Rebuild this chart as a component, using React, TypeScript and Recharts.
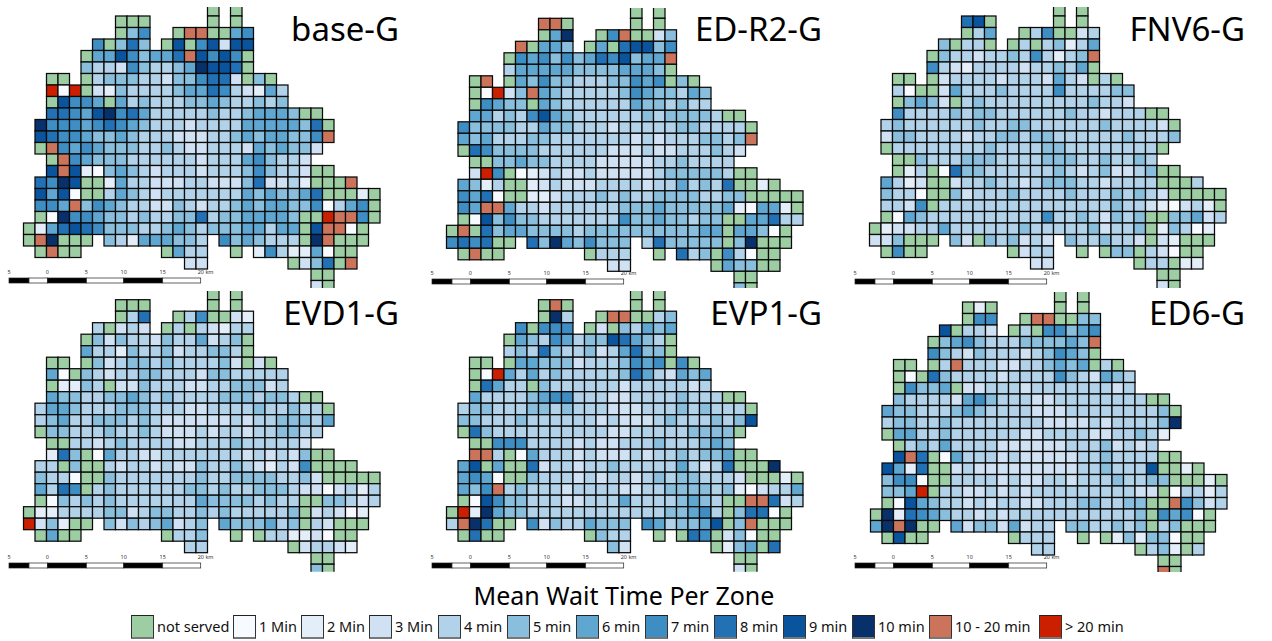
import React from "react";
import { ScatterChart, Scatter, XAxis, YAxis } from "recharts";

// Cell codes: . no zone, g not served, 1-9 minutes, a 10 min, o 10-20 min, r > 20 min
const baseG = [
  "................g.g",
  "........ggg.....g.g",
  "........g57..googg67",
  "......7g585.g9g79399",
  ".....g66975668o9797g",
  ".....5443754456a998g",
  "..gg.g4555443557883g5g",
  "..r1rg32544445668743264",
  "..g9776g645444556544545",
  "..88769a7864444454456665gg",
  ".a777678765444344446666658g",
  ".9877655654443334456566557o",
  ".go76765554454334443656553",
  "..go765554444443444675443",
  "..9o921565434443444575443gg",
  ".87a9gg264433344333583342gggo",
  ".9691gg4654344444446565568ggg2g",
  ".776o5765443354344565665571467g",
  ".g1a77655454455845566665ggroo7g",
  "g26898755544565455566466g9oo1g",
  "goaggg.542666554.7565444gaoggg",
  ".gogg.......g644..g.2742261gg",
  "..............33.......g358go",
  ".........................gg",
  ".........................3g",
];
const edR2G = [
  "................g.g",
  "........oog.....g.g",
  "........g6a..g7ogg35",
  "......og665.g6g89957",
  ".....g7675756879566o",
  ".....46666655556665g",
  "..go.g6575544455767g5g",
  "..g1r35o654444457655465",
  "..g7655g654444446554544",
  "..6645479654444445455554gg",
  ".7555544655444344444554444g",
  ".6564445544444443434445545o",
  ".g875555444444333433444543",
  "..gg556554444333334454444",
  "..3r7g1234334333334555554gg",
  ".6524gg234333444434464548gg2g",
  ".7681gg2234445454455554455ggggg",
  ".76oo6443444444555655555621662g",
  ".g1957554444444755655455gg66844",
  "gog856655554555555555566g6651g",
  "7878gg.85a657555.4855555g5aggg",
  ".gogg.......g444..g.845g741gg",
  "..............33.......g655gg",
  ".........................gg",
  ".........................5g",
];
const fnv6G = [
  "................g.g",
  "........89g.....g.g",
  "........g46..g47gg34",
  "......5g44g.g4g45246",
  ".....g5443445474245o",
  ".....74324444344546g",
  "..gg.g3444434443643g4g",
  "..41gg36444544447444455",
  "..g5653g454444444445443",
  "..7444454554444445443444gg",
  ".4544444454455444444544443g",
  ".35544443445545544444454445",
  ".g44444444544445544444444g",
  "..gg544455544445554454454",
  "..g24g1855444444543453345gg",
  ".6423gg344544345554434444ggg4",
  ".5441gg5344454444544454543ggggg",
  ".4437g444444444444444544321342g",
  ".g1654444444444744543545gg55634",
  "g23344644444454444453445g25412",
  "335ggg.53g545343.5445443g32ggg",
  ".g7gg.......g344..g.g55g431gg",
  "..............33.......g44g22",
  ".........................gg",
  ".........................3g",
];
const evd1G = [
  "................g.g",
  "........ggg.....g.g",
  "........g48..g47gg32",
  "......4g343.g4g43244",
  ".....g5354435446345g",
  ".....64425445344554g",
  "..gg.g5345545444453g3g",
  "..61g543445544435544444",
  "..g2254g335444334455534",
  "..6554455654544445554554gg",
  ".4665444555444334444544544g",
  ".45644555454333333434455546",
  ".g554445445433343443445544",
  "..gg443454444334445444443",
  "..285g1644334444444343435gg",
  ".44g5gg434434335445432437gggg",
  ".5441gg5444444454455554453ggggg",
  ".6487g4544444455454455543313424",
  ".g1545454444444655554544gg55434",
  "g22444455345544545444445g34312",
  "r352gg.535456345.6555645g43ggg",
  ".g6gg.......g445..g.g442231gg",
  "..............44.......g34432",
  ".........................gg",
  ".........................5g",
];
const evp1G = [
  "................g.g",
  "........gog.....g.g",
  "........ga4..googg45",
  "......7g777.g3g54656",
  ".....g6547645598654g",
  ".....45485445346855g",
  "..gg.g6655534445767g7g",
  "..g1r646454444458643656",
  "..g8644g544444434444434",
  "..6444456774443344445444gg",
  ".4554445545444333444545444g",
  ".55444544444434333454445459",
  ".g85444444444433444445555g",
  "..gg777444434334445444565",
  "..oo4g1644434333434454556gg",
  ".69g6gg834434454444464348ggga",
  ".6761gg5444343443454554443ggg2g",
  ".657o45444344443344555545213446",
  ".g1975544433444644445654ggoo834",
  "gr2a65544444444444455674g5881g",
  "4oa8gg.735446555.7645569g5oggg",
  ".g8gg.......g544..g.g87g351gg",
  "..............53.......g256g8",
  ".........................gg",
  ".........................3g",
];
const ed6G = [
  "................g.g",
  "........g2g.....g.g",
  "........g77..googg55",
  "......9g443.g4g77567",
  ".....g5675444555565o",
  ".....75435444345765g",
  "..gg.g4o44433445656g4g",
  "..g1g854444344447543654",
  "..g7556g334443444444434",
  "..5444436754443344444444gg",
  ".6554445654444333444444445g",
  ".4554454444444433334344445a",
  ".g664454444443344443344542",
  "..g4546444433333344453434",
  "..9o8g1644434333334454444gg",
  ".9628gg343333333334454449gg2g",
  ".5771gg4444343344344454455ggg2g",
  ".556rg4433434344444444433g14424",
  ".g1965443434433444554455ggo7534",
  "ga2876544343444444444445g7671g",
  "6aoagg.635536344.5544545g45ggg",
  ".g9gg.......g444..g.g252551gg",
  "..............44.......g452g4",
  ".........................gg",
  ".........................og",
];

const panelNames = ["base-G", "ED-R2-G", "FNV6-G", "EVD1-G", "EVP1-G", "ED6-G"];
const panelRows = [baseG, edR2G, fnv6G, evd1G, evp1G, ed6G];

const legendCodes = ["g", "1", "2", "3", "4", "5", "6", "7", "8", "9", "a", "o", "r"];
const legendLabels = ["not served", "1 Min", "2 Min", "3 Min", "4 min", "5 min", "6 min", "7 min", "8 min", "9 min", "10 min", "10 - 20 min", "> 20 min"];
const legendColors = ["#9ccda3", "#f7fbff", "#e3eef9", "#cfe1f2", "#b1d2e8", "#89bedc", "#5fa6d1", "#3e8ec4", "#2271b5", "#0a549e", "#08306b", "#cc745b", "#cc1f00"];
const scaleLabels = ["5", "0", "5", "10", "15", "20 km"];

// layout (page pixels)
const FONT = "'Noto Sans', sans-serif";
const CELL = 11.5;
const panelBoxes = [
  { x0: 23.3, r1: 15.7, top: 6.7, bottom: 288, right: 399, titleTop: 11, barX: 9.3, barY: 278 },
  { x0: 446.7, r1: 18.3, top: 8, bottom: 288, right: 822, titleTop: 11, barX: 432, barY: 278.5 },
  { x0: 869, r1: 15.7, top: 6.7, bottom: 288, right: 1245, titleTop: 11, barX: 855, barY: 278.5 },
  { x0: 23.3, r1: 299.7, top: 291, bottom: 571.7, right: 399, titleTop: 295, barX: 9.3, barY: 563 },
  { x0: 446.7, r1: 299.7, top: 291, bottom: 571.7, right: 822, titleTop: 295, barX: 432, barY: 562.5 },
  { x0: 870.3, r1: 301.7, top: 291.7, bottom: 572.5, right: 1245, titleTop: 295, barX: 855, barY: 562.5 },
];
const legendX = [130, 232, 300, 368, 437, 506, 575, 644, 713, 782, 851, 928, 1038];
const scaleStops = [0, 20, 38.4, 77.4, 114.7, 153.7, 191.7];
const scaleLabelStops = [0, 2, 3, 4, 5, 6];

const colorOf = (code: string) => legendColors[legendCodes.indexOf(code)];

function toPoints(rows: string[]) {
  const pts: { col: number; row: number; code: string }[] = [];
  rows.forEach((line, r) => {
    line.split("").forEach((code, c) => {
      if (code !== ".") pts.push({ col: c + 0.5, row: r + 0.5, code });
    });
  });
  return pts;
}

const Tile = (props: any) => {
  const { cx, cy, payload } = props;
  if (cx == null || cy == null) return null;
  return (
    <rect
      x={cx - CELL / 2}
      y={cy - CELL / 2}
      width={CELL}
      height={CELL}
      fill={colorOf(payload.code)}
      stroke="#0a0a0a"
      strokeWidth={1.25}
    />
  );
};

function Panel({ index }: { index: number }) {
  const b = panelBoxes[index];
  const r0 = b.r1 - CELL;
  const h = b.bottom - b.top;
  const w = CELL * 33;
  return (
    <div style={{ position: "absolute", left: b.x0 - CELL, top: b.top, width: w, height: h }}>
      <ScatterChart width={w} height={h} margin={{ top: 0, right: 0, bottom: 0, left: 0 }}>
        <XAxis type="number" dataKey="col" domain={[-1, 32]} hide allowDataOverflow />
        <YAxis
          type="number"
          dataKey="row"
          domain={[(b.top - r0) / CELL, (b.bottom - r0) / CELL]}
          reversed
          hide
          allowDataOverflow
        />
        <Scatter data={toPoints(panelRows[index])} isAnimationActive={false} shape={<Tile />} />
      </ScatterChart>
    </div>
  );
}

function ScaleBar({ x, y }: { x: number; y: number }) {
  return (
    <svg style={{ position: "absolute", left: x - 5, top: y - 12, overflow: "visible" }} width={215} height={20}>
      {scaleStops.slice(0, -1).map((s, i) => (
        <rect
          key={i}
          x={5 + s}
          y={12}
          width={scaleStops[i + 1] - s}
          height={5}
          fill={i % 2 === 0 ? "#000" : "#fff"}
          stroke="#222"
          strokeWidth={0.7}
        />
      ))}
      {scaleLabels.map((t, i) => (
        <text
          key={i}
          x={5 + scaleStops[scaleLabelStops[i]] - (i === 5 ? 3 : 0)}
          y={8}
          fontSize={5.5}
          fontFamily={FONT}
          fill="#333"
          textAnchor={i === 5 ? "start" : "middle"}
        >
          {t}
        </text>
      ))}
    </svg>
  );
}

export default function App() {
  return (
    <div style={{ position: "absolute", left: 0, top: 0, width: 1272, height: 641, overflow: "hidden", background: "#fff", fontFamily: FONT }}>
      {panelNames.map((_, i) => (
        <Panel key={i} index={i} />
      ))}
      {panelBoxes.map((b, i) => (
        <ScaleBar key={i} x={b.barX} y={b.barY} />
      ))}
      {panelNames.map((name, i) => (
        <div
          key={name}
          style={{
            position: "absolute",
            right: 1272 - panelBoxes[i].right,
            top: panelBoxes[i].titleTop,
            fontSize: 33,
            lineHeight: "36px",
            color: "#000",
            whiteSpace: "nowrap",
          }}
        >
          {name}
        </div>
      ))}
      <div style={{ position: "absolute", left: 324, width: 600, top: 579, textAlign: "center", fontSize: 25, lineHeight: "32px", color: "#000" }}>
        Mean Wait Time Per Zone
      </div>
      {legendLabels.map((label, i) => (
        <React.Fragment key={label}>
          <div
            style={{
              position: "absolute",
              left: legendX[i] + 0.5,
              top: 615,
              width: 23,
              height: 24,
              boxSizing: "border-box",
              background: legendColors[i],
              borderTop: "1px solid #222",
              borderLeft: "1px solid #333",
              borderRight: "1px solid #333",
              borderBottom: "2px solid #777",
            }}
          />
          <div
            style={{
              position: "absolute",
              left: legendX[i] + 27,
              top: 616,
              fontSize: 14.5,
              lineHeight: "20px",
              color: "#111",
              whiteSpace: "nowrap",
            }}
          >
            {label}
          </div>
        </React.Fragment>
      ))}
    </div>
  );
}
